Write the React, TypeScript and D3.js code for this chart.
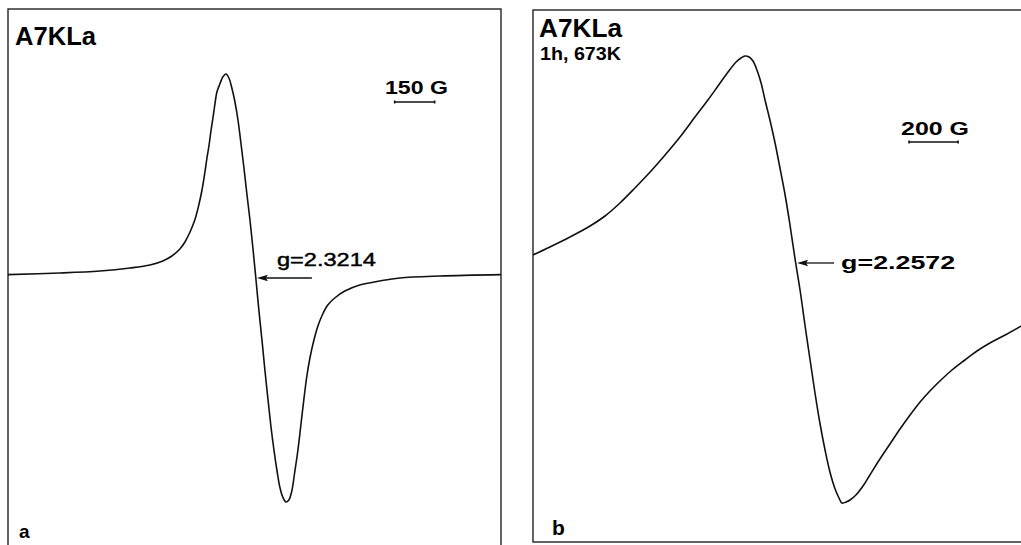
import React from "react";
import * as d3 from "d3";

const W = 1021;
const H = 545;

// Spectrum a: magnetic field (G) and first-derivative EPR signal (arb. units)
const fieldA = [
  2000, 2195, 2345, 2458, 2533, 2581, 2615, 2645, 2664, 2683, 2701, 2716, 2728,
  2739, 2746, 2754, 2761, 2769, 2776, 2784, 2795, 2806, 2818, 2829, 2840, 2851,
  2863, 2874, 2885, 2896, 2908, 2919, 2930, 2941, 2953, 2964, 2975, 2986, 2998,
  3009, 3020, 3031, 3043, 3054, 3065, 3076, 3088, 3099, 3110, 3121, 3133, 3148,
  3163, 3181, 3200, 3226, 3264, 3320, 3395, 3470, 3620, 3850,
];
const signalA = [
  -0.3, 0.5, 1.5, 3, 4.5, 6.5, 9, 12.5, 16, 21, 27, 34.5, 42,
  51, 57.5, 64, 71, 78, 84.5, 91, 95, 98.5, 100, 98, 93, 86.5,
  77, 65.5, 53.5, 40.5, 27, 13, -2, -17.5, -33, -48, -62, -75.5, -88,
  -98, -106.5, -111.5, -114, -113, -108.5, -99, -88, -75.5, -63, -51.5, -42, -33,
  -26, -20, -15.5, -12, -8.5, -5.5, -3.5, -2, -1, -0.3,
];

// Spectrum b: sample after 1 h at 673 K
const fieldB = [
  2400, 2469, 2551, 2633, 2694, 2755, 2816, 2878, 2939, 3000, 3061, 3114, 3155,
  3196, 3229, 3249, 3265, 3282, 3298, 3314, 3331, 3347, 3367, 3388, 3408, 3429,
  3449, 3469, 3490, 3510, 3531, 3551, 3571, 3592, 3612, 3633, 3649, 3661, 3678,
  3694, 3718, 3747, 3775, 3816, 3857, 3898, 3939, 3980, 4020, 4061, 4110, 4163,
  4212, 4265, 4327, 4400,
];
const signalB = [
  4, 8, 13, 18.5, 23.5, 30, 37.5, 45.5, 54, 63, 73, 81.5, 88.5,
  95.5, 100.5, 102.5, 103.5, 103, 101, 96.5, 90, 81.5, 71.5, 60, 47.5, 34,
  19, 2.5, -13.5, -31, -48.5, -65, -80, -93.5, -104.5, -113, -117.5, -120, -119.5,
  -118.5, -116, -111.5, -106, -98, -90.5, -83, -76, -69.5, -64, -59, -53.5, -48.5,
  -44, -40, -36, -31,
];

// Zero-crossing fields marked by the g-value arrows
const gFields = [2934, 3478];
const gLabels = ["g=2.3214", "g=2.2572"];
// Field scale bars (G)
const barLengths = [150, 200];
const barStarts = [3451, 3935];
const sampleName = "A7KLa";
const treatment = "1h, 673K";
const panelLetters = ["a", "b"];

const FONT = "'Liberation Sans', Arial, Helvetica, sans-serif";

type Pt = [number, number];

function Arrow({ x1, x2, y }: { x1: number; x2: number; y: number }) {
  // x1 = tip, x2 = tail
  return (
    <g>
      <line x1={x1 + 8} x2={x2} y1={y} y2={y} stroke="#111" strokeWidth={1.3} />
      <path d={`M${x1},${y} L${x1 + 11},${y - 3.2} L${x1 + 9},${y} L${x1 + 11},${y + 3.2} Z`} fill="#111" />
    </g>
  );
}

function ScaleBar({ x1, x2, y }: { x1: number; x2: number; y: number }) {
  return (
    <g stroke="#111" strokeWidth={1.6}>
      <line x1={x1} x2={x2} y1={y} y2={y} />
      <line x1={x1} x2={x1} y1={y - 1.5} y2={y + 1.5} />
      <line x1={x2} x2={x2} y1={y - 1.5} y2={y + 1.5} />
    </g>
  );
}

export default function App() {
  const xA = d3.scaleLinear().domain([2000, 3850]).range([8, 501]);
  const yA = d3.scaleLinear().domain([-135.5, 132.5]).range([545, 9]);
  const xB = d3.scaleLinear().domain([2400, 4400]).range([533, 1023]);
  const yB = d3.scaleLinear().domain([-139.5, 126.5]).range([542, 10]);

  const ptsA: Pt[] = fieldA.map((f, i) => [f, signalA[i]]);
  const ptsB: Pt[] = fieldB.map((f, i) => [f, signalB[i]]);

  const lineA = d3
    .line<Pt>()
    .x((d) => xA(d[0]))
    .y((d) => yA(d[1]))
    .curve(d3.curveCatmullRom.alpha(0.5));
  const lineB = d3
    .line<Pt>()
    .x((d) => xB(d[0]))
    .y((d) => yB(d[1]))
    .curve(d3.curveCatmullRom.alpha(0.5));

  const arrowYA = yA(-2);
  const arrowYB = yB(0);

  return (
    <svg
      width={W}
      height={H}
      viewBox={`0 0 ${W} ${H}`}
      style={{ position: "absolute", left: 0, top: 0, background: "#fff" }}
      fontFamily={FONT}
    >
      <defs>
        <clipPath id="clipB">
          <rect x={533} y={10} width={W - 533} height={532} />
        </clipPath>
      </defs>
      <rect width={W} height={H} fill="#fff" />

      {/* Panel a */}
      <rect x={8} y={9} width={493} height={545} fill="none" stroke="#222" strokeWidth={1.4} />
      <path d={lineA(ptsA) ?? ""} fill="none" stroke="#111" strokeWidth={1.6} />
      <text x={15} y={45} fontSize={25} fontWeight="bold" textLength={81} lengthAdjust="spacingAndGlyphs">
        {sampleName}
      </text>
      <text x={385} y={94} fontSize={18} fontWeight="bold" textLength={63} lengthAdjust="spacingAndGlyphs">
        150 G
      </text>
      <ScaleBar x1={xA(barStarts[0])} x2={xA(barStarts[0] + barLengths[0])} y={102} />
      <Arrow x1={xA(gFields[0])} x2={xA(gFields[0]) + 55} y={arrowYA} />
      <text
        x={xA(gFields[0]) + 20}
        y={arrowYA - 12}
        fontSize={19}
        stroke="#000"
        strokeWidth={0.45}
        textLength={99}
        lengthAdjust="spacingAndGlyphs"
      >
        {gLabels[0]}
      </text>
      <text x={19} y={538} fontSize={19} fontWeight="bold">
        {panelLetters[0]}
      </text>

      {/* Panel b */}
      <rect x={533} y={10} width={500} height={532} fill="none" stroke="#222" strokeWidth={1.4} />
      <path d={lineB(ptsB) ?? ""} fill="none" stroke="#111" strokeWidth={1.6} clipPath="url(#clipB)" />
      <text x={539} y={37} fontSize={25} fontWeight="bold" textLength={83} lengthAdjust="spacingAndGlyphs">
        {sampleName}
      </text>
      <text x={540} y={60} fontSize={18} fontWeight="bold" textLength={81} lengthAdjust="spacingAndGlyphs">
        {treatment}
      </text>
      <text x={901} y={135} fontSize={19} fontWeight="bold" textLength={68} lengthAdjust="spacingAndGlyphs">
        200 G
      </text>
      <ScaleBar x1={xB(barStarts[1])} x2={xB(barStarts[1] + barLengths[1])} y={142} />
      <Arrow x1={xB(gFields[1])} x2={xB(gFields[1]) + 37} y={arrowYB} />
      <text x={xB(gFields[1]) + 44} y={arrowYB + 6} fontSize={19} fontWeight="bold" textLength={114} lengthAdjust="spacingAndGlyphs">
        {gLabels[1]}
      </text>
      <text x={552} y={535} fontSize={21} fontWeight="bold">
        {panelLetters[1]}
      </text>
    </svg>
  );
}
